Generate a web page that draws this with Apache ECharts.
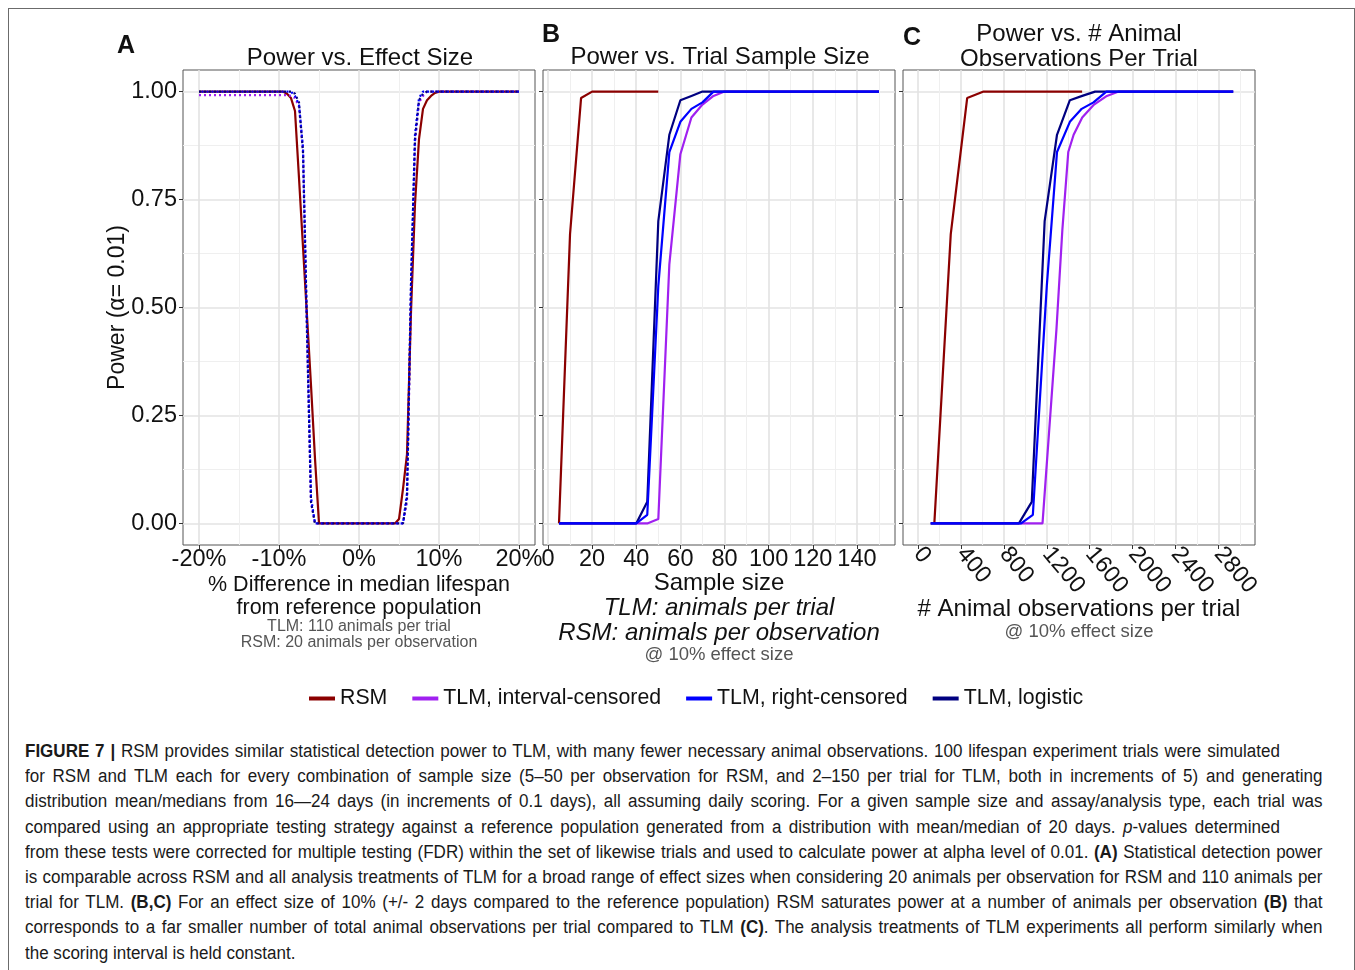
<!DOCTYPE html>
<html>
<head>
<meta charset="utf-8">
<title>Power comparison of RSM and TLM</title>
<script src="https://cdn.jsdelivr.net/npm/echarts@6/dist/echarts.min.js"></script>
<style>
  html, body { margin: 0; padding: 0; background: #fff; width: 1355px; height: 970px; overflow: hidden; }
  #frame { position: absolute; left: 8px; top: 8px; width: 1347px; height: 990px; border: 1px solid #6b6b6b; box-sizing: border-box; pointer-events: none; }
  #chart { position: absolute; left: 0; top: 0; width: 1355px; height: 730px; }
  #caption { position: absolute; left: 25px; top: 739px; width: 1373px; font-family: 'Liberation Sans', Arial, Helvetica, sans-serif; font-size: 18px; line-height: 25.2px; color: #1a1a1a; transform-origin: 0 0; transform: scaleX(0.945); }
  #caption div { white-space: nowrap; }
  #caption .j { text-align: justify; text-align-last: justify; }
  #caption .short { width: 1328px; }
  #caption b { font-weight: bold; }
</style>
</head>
<body>
<div id="chart"></div>
<div id="caption">
  <div class="j short"><b>FIGURE 7 |</b> RSM provides similar statistical detection power to TLM, with many fewer necessary animal observations. 100 lifespan experiment trials were simulated</div>
  <div class="j">for RSM and TLM each for every combination of sample size (5–50 per observation for RSM, and 2–150 per trial for TLM, both in increments of 5) and generating</div>
  <div class="j">distribution mean/medians from 16—24 days (in increments of 0.1 days), all assuming daily scoring. For a given sample size and assay/analysis type, each trial was</div>
  <div class="j short">compared using an appropriate testing strategy against a reference population generated from a distribution with mean/median of 20 days. <i>p</i>-values determined</div>
  <div class="j">from these tests were corrected for multiple testing (FDR) within the set of likewise trials and used to calculate power at alpha level of 0.01. <b>(A)</b> Statistical detection power</div>
  <div class="j">is comparable across RSM and all analysis treatments of TLM for a broad range of effect sizes when considering 20 animals per observation for RSM and 110 animals per</div>
  <div class="j">trial for TLM. <b>(B,C)</b> For an effect size of 10% (+/- 2 days compared to the reference population) RSM saturates power at a number of animals per observation <b>(B)</b> that</div>
  <div class="j">corresponds to a far smaller number of total animal observations per trial compared to TLM <b>(C)</b>. The analysis treatments of TLM experiments all perform similarly when</div>
  <div>the scoring interval is held constant.</div>
</div>
<div id="frame"></div>
<script>
// ---- Panel A: power vs. % difference in median lifespan ----
const effectPct = [-20, -15, -10, -9.5, -9, -8.5, -8, -7.5, -7, -6.5, -6, -5.5, -5, -4.5, 0,
                   4.5, 5, 5.5, 6, 6.5, 7, 7.5, 8, 8.5, 9, 9.5, 10, 15, 20];
const rsmA      = [1, 1, 1, 1, 0.995, 0.985, 0.955, 0.80, 0.64, 0.48, 0.32, 0.15, 0, 0, 0,
                   0, 0.01, 0.08, 0.16, 0.49, 0.74, 0.89, 0.96, 0.98, 0.99, 0.997, 1, 1, 1];
const intervalA = [0.992, 0.992, 0.992, 0.992, 0.992, 0.99, 0.985, 0.965, 0.86, 0.45, 0.05, 0, 0, 0, 0,
                   0, 0, 0, 0.05, 0.53, 0.88, 0.975, 0.99, 1, 1, 1, 1, 1, 1];
const rightA    = [1, 1, 1, 1, 1, 1, 0.99, 0.97, 0.87, 0.46, 0.06, 0, 0, 0, 0,
                   0, 0, 0, 0.07, 0.56, 0.90, 0.985, 1, 1, 1, 1, 1, 1, 1];
const logisticA = [1, 1, 1, 1, 1, 1, 0.995, 0.975, 0.86, 0.44, 0.05, 0, 0, 0, 0,
                   0, 0, 0, 0.06, 0.55, 0.89, 0.98, 0.995, 1, 1, 1, 1, 1, 1];

// ---- Panel B: power vs. sample size (10% effect) ----
const sampleSize = [5, 10, 15, 20, 25, 30, 35, 40, 45, 50, 55, 60, 65, 70, 75,
                    80, 85, 90, 95, 100, 105, 110, 115, 120, 125, 130, 135, 140, 145, 150];
const rsmSampleSize = [5, 10, 15, 20, 25, 30, 35, 40, 45, 50];
const rsmB      = [0, 0.67, 0.985, 1, 1, 1, 1, 1, 1, 1];
const intervalB = [0, 0, 0, 0, 0, 0, 0, 0, 0, 0.01, 0.60, 0.855, 0.94, 0.97, 0.99,
                   1, 1, 1, 1, 1, 1, 1, 1, 1, 1, 1, 1, 1, 1, 1];
const rightB    = [0, 0, 0, 0, 0, 0, 0, 0, 0.02, 0.55, 0.86, 0.93, 0.96, 0.975, 1,
                   1, 1, 1, 1, 1, 1, 1, 1, 1, 1, 1, 1, 1, 1, 1];
const logisticB = [0, 0, 0, 0, 0, 0, 0, 0, 0.05, 0.70, 0.90, 0.98, 0.99, 1, 1,
                   1, 1, 1, 1, 1, 1, 1, 1, 1, 1, 1, 1, 1, 1, 1];

// ---- Panel C: power vs. total animal observations per trial (10% effect) ----
const rsmObsC      = [152, 305, 458, 611, 764, 917, 1070, 1223, 1376, 1529];
const rsmC         = [0, 0.67, 0.985, 1, 1, 1, 1, 1, 1, 1];
const intervalObsC = [118, 1160, 1290, 1345, 1400, 1450, 1530, 1640, 1760, 1870, 2937];
const intervalC    = [0, 0, 0.45, 0.68, 0.86, 0.90, 0.94, 0.97, 0.99, 1, 1];
const rightObsC    = [118, 960, 1070, 1200, 1295, 1415, 1525, 1635, 1755, 2937];
const rightC       = [0, 0, 0.02, 0.55, 0.86, 0.93, 0.96, 0.975, 1, 1];
const logisticObsC = [118, 940, 1060, 1180, 1295, 1415, 1530, 1650, 2937];
const logisticC    = [0, 0, 0.05, 0.70, 0.90, 0.98, 0.99, 1, 1];

// ---- Tick labels ----
const powerTicks  = [0, 0.25, 0.5, 0.75, 1];
const effectTicks = [-20, -10, 0, 10, 20];
const sampleTicks = [0, 20, 40, 60, 80, 100, 120, 140];
const obsTicks    = [0, 400, 800, 1200, 1600, 2000, 2400, 2800];

const seriesNames = ['RSM', 'TLM, interval-censored', 'TLM, right-censored', 'TLM, logistic'];
const seriesColors = ['#8B0000', '#A020F0', '#0000FF', '#000080'];

const FONT = "'Liberation Sans', Arial, Helvetica, sans-serif";
const zip = (xs, ys) => xs.map((x, i) => [x, ys[i]]);

function lineSeries(idx, grid, data, dotted, dashOffset) {
  return {
    type: 'line', name: seriesNames[idx], xAxisIndex: grid, yAxisIndex: grid,
    data: data, showSymbol: false, symbol: 'none', silent: true, animation: false,
    emphasis: { disabled: true },
    itemStyle: { color: seriesColors[idx] },
    lineStyle: dotted
      ? { color: seriesColors[idx], width: 2.2, type: [2, 3], dashOffset: dashOffset || 0, cap: 'butt' }
      : { color: seriesColors[idx], width: 2.2, type: 'solid' }
  };
}

const gridBox = (left) => ({ left: left, top: 70, width: 352, height: 475, show: true,
  borderColor: '#555', borderWidth: 1, backgroundColor: '#fff' });

const tickStyle = { show: true, length: 4, lineStyle: { color: '#333', width: 1 } };
const majorGrid = { show: true, lineStyle: { color: '#E3E3E3', width: 1.6 } };
const minorGrid = { show: true, lineStyle: { color: '#EFEFEF', width: 1.1 } };

function yAxisFor(grid) {
  const opt = {
    type: 'value', gridIndex: grid, min: -0.05, max: 1.05, minInterval: 0.25, maxInterval: 0.25,
    axisLine: { show: false, onZero: false },
    axisTick: Object.assign({ customValues: powerTicks }, tickStyle),
    axisLabel: { show: grid === 0, customValues: powerTicks, formatter: v => v.toFixed(2),
                 fontSize: 23.5, color: '#111', margin: 6, fontFamily: FONT },
    splitLine: majorGrid,
    minorTick: { show: false, splitNumber: 2 },
    minorSplitLine: minorGrid
  };
  if (grid === 0) {
    opt.name = 'Power (α= 0.01)';
    opt.nameLocation = 'middle';
    opt.nameGap = 54;
    opt.nameMoveOverlap = false;
    opt.nameTextStyle = { fontSize: 23, color: '#111', fontFamily: FONT };
  }
  return opt;
}

function xAxisFor(grid, min, max, step, ticks, labelFmt, rotate) {
  return {
    type: 'value', gridIndex: grid, min: min, max: max, minInterval: step, maxInterval: step,
    axisLine: { show: false, onZero: false },
    axisTick: Object.assign({ customValues: ticks }, tickStyle),
    axisLabel: { customValues: ticks, formatter: labelFmt, fontSize: 23.5, color: '#111',
                 margin: rotate ? 5 : 3, rotate: rotate || 0, fontFamily: FONT },
    splitLine: majorGrid,
    minorTick: { show: false, splitNumber: 2 },
    minorSplitLine: minorGrid,
    nameLocation: 'middle',
    nameMoveOverlap: false
  };
}

const xA = xAxisFor(0, -22, 22, 10, effectTicks, v => v + '%');
xA.name = '{m|% Difference in median lifespan}\n{m|from reference population}\n{s|TLM: 110 animals per trial}\n{s|RSM: 20 animals per observation}';
xA.nameGap = 29;
xA.nameTextStyle = { fontFamily: FONT, rich: {
  m: { fontSize: 21.5, lineHeight: 22.5, color: '#111', fontFamily: FONT },
  s: { fontSize: 16, lineHeight: 15.5, color: '#555', fontFamily: FONT } } };

const xB = xAxisFor(1, -2.25, 157.25, 20, sampleTicks, v => String(v));
xB.name = '{m|Sample size}\n{i|TLM: animals per trial}\n{i|RSM: animals per observation}\n{s|@ 10% effect size}';
xB.nameGap = 26;
xB.nameTextStyle = { fontFamily: FONT, rich: {
  m: { fontSize: 24, lineHeight: 25, color: '#111', fontFamily: FONT },
  i: { fontSize: 24, lineHeight: 25, color: '#111', fontStyle: 'italic', fontFamily: FONT },
  s: { fontSize: 18.5, lineHeight: 18, color: '#555', fontFamily: FONT } } };

const xC = xAxisFor(2, -140, 3140, 400, obsTicks, v => String(v), -50);
xC.name = '{m|# Animal observations per trial}\n{s|@ 10% effect size}';
xC.nameGap = 52;
xC.nameTextStyle = { fontFamily: FONT, rich: {
  m: { fontSize: 24, lineHeight: 24, color: '#111', fontFamily: FONT },
  s: { fontSize: 18.5, lineHeight: 21, color: '#555', fontFamily: FONT } } };

const series = [
  // Panel A: RSM solid, TLM treatments dotted
  lineSeries(0, 0, zip(effectPct, rsmA), false),
  lineSeries(1, 0, zip(effectPct, intervalA), true, 0),
  lineSeries(2, 0, zip(effectPct, rightA), true, 2.5),
  lineSeries(3, 0, zip(effectPct, logisticA), true, 0),
  // Panel B
  lineSeries(0, 1, zip(rsmSampleSize, rsmB), false),
  lineSeries(1, 1, zip(sampleSize, intervalB), false),
  lineSeries(3, 1, zip(sampleSize, logisticB), false),
  lineSeries(2, 1, zip(sampleSize, rightB), false),
  // Panel C
  lineSeries(0, 2, zip(rsmObsC, rsmC), false),
  lineSeries(1, 2, zip(intervalObsC, intervalC), false),
  lineSeries(3, 2, zip(logisticObsC, logisticC), false),
  lineSeries(2, 2, zip(rightObsC, rightC), false)
];

const txt = (text, x, y, size, bold) => ({
  type: 'text', x: x, y: y, silent: true,
  style: { text: text, fill: '#111', font: (bold ? 'bold ' : '') + size + 'px ' + FONT,
           textAlign: 'center', textVerticalAlign: 'middle' }
});

const option = {
  animation: false,
  textStyle: { fontFamily: FONT },
  grid: [gridBox(183), gridBox(543), gridBox(903)],
  xAxis: [xA, xB, xC],
  yAxis: [yAxisFor(0), yAxisFor(1), yAxisFor(2)],
  legend: {
    left: 304, top: 683, itemWidth: 26, itemHeight: 4, itemGap: 25, icon: 'rect',
    itemStyle: { borderWidth: 0 },
    textStyle: { fontSize: 21.3, color: '#111', fontFamily: FONT },
    data: seriesNames
  },
  graphic: [
    txt('A', 126, 46, 25, true),
    txt('B', 551, 35, 25, true),
    txt('C', 912, 38, 25, true),
    txt('Power vs. Effect Size', 360, 58, 24),
    txt('Power vs. Trial Sample Size', 720, 57, 24),
    txt('Power vs. # Animal', 1079, 34, 24),
    txt('Observations Per Trial', 1079, 59, 24)
  ],
  series: series
};

const chart = echarts.init(document.getElementById('chart'), null, { renderer: 'canvas' });
chart.setOption(option);
</script>
</body>
</html>
